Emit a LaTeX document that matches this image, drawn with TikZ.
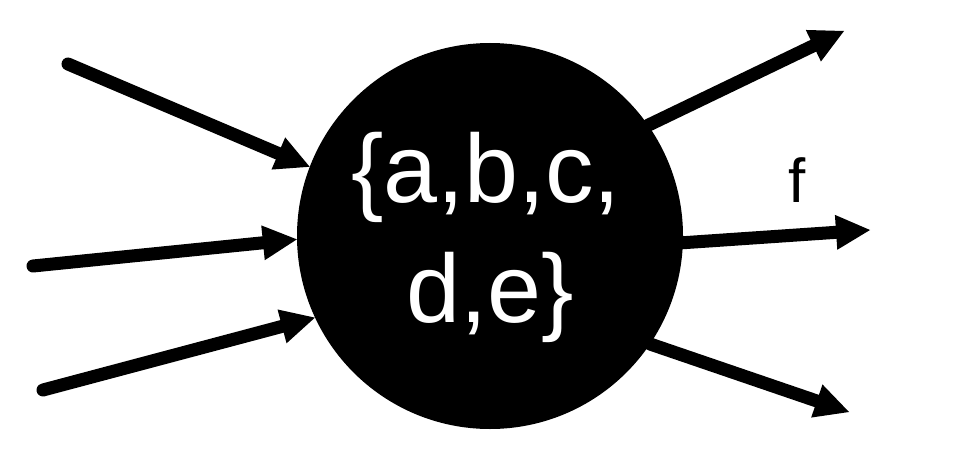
\documentclass[tikz,border=0pt]{standalone}
\usepackage{fontspec}
\setmainfont{Liberation Sans}
\usetikzlibrary{arrows.meta}

\begin{document}
\begin{tikzpicture}[x=1pt, y=-1pt,
  flow/.style={line width=13pt, line cap=round, -{Triangle[length=34pt,width=35pt,line width=0pt]}},
  setline/.style={text=white, anchor=base, inner sep=0pt, font=\fontsize{97}{116}\selectfont}]
\useasboundingbox (0,0) rectangle (960,452);
\node[circle, fill=black, inner sep=0pt, minimum size=386pt] (set) at (490,236) {};
\node[setline] (row1) at (486,202) {\{a,b,c,};
\node[setline] (row2) at (490,322) {d,e\}};
\coordinate (in1) at (68,64);
\coordinate (in2) at (33,266);
\coordinate (in3) at (43,390);
\coordinate (out1) at (844,31);
\coordinate (out2) at (870,230);
\coordinate (out3) at (849,412);
\draw[flow] (in1) -- (set.159);
\draw[flow] (in2) -- (set.181.5);
\draw[flow] (in3) -- (set.205);
\draw[flow] (set.35) -- (out1);
\draw[flow] (set.-2) -- (out2);
\draw[flow] (set.-34) -- (out3);
\node[font=\fontsize{62}{70}\selectfont] (flab) at (797,180) {f};
\end{tikzpicture}
\end{document}
